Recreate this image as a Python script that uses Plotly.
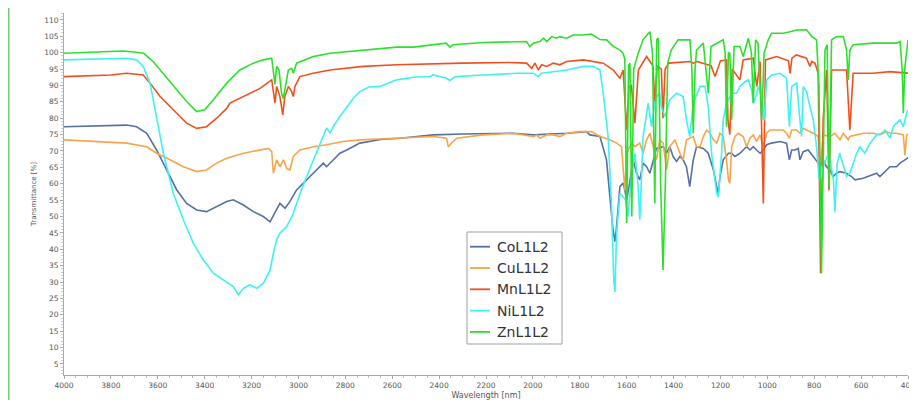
import plotly.graph_objects as go

# ---------------- data (wavenumber axis labelled "Wavelength [nm]") ----------------
series_names = ["CoL1L2", "CuL1L2", "MnL1L2", "NiL1L2", "ZnL1L2"]

wn_co = [4000, 3875, 3733, 3690, 3647, 3605, 3562, 3519, 3477, 3434, 3392, 3349, 3306, 3278, 3235, 3192,
         3150, 3121, 3100, 3079, 3057, 3036, 3008, 2979, 2936, 2894, 2880, 2851, 2823, 2794, 2766, 2738,
         2650, 2567, 2425, 2300, 2084, 1998, 1856, 1771, 1757, 1714, 1686, 1672, 1660, 1650, 1643, 1629,
         1615, 1608, 1600, 1590, 1572, 1558, 1544, 1530, 1515, 1501, 1487, 1473, 1444, 1430, 1416, 1402,
         1387, 1373, 1359, 1345, 1331, 1316, 1302, 1273, 1252, 1230, 1216, 1209, 1202, 1188, 1166, 1152,
         1138, 1117, 1103, 1088, 1074, 1060, 1046, 1031, 1017, 1003, 982, 946, 918, 906, 896, 882, 868,
         861, 847, 826, 804, 783, 776, 762, 748, 733, 719, 705, 690, 662, 641, 626, 591, 548, 534, 520,
         491, 477, 449, 434, 413, 392]
t_co = [77.4, 77.6, 77.9, 77.4, 75.4, 70.3, 64.2, 58.1, 54.0, 52.0, 51.5, 53.0, 54.6, 55.1, 53.5, 51.5,
        50.0, 48.4, 51.0, 54.0, 52.5, 54.6, 58.1, 60.2, 63.2, 66.3, 65.2, 67.3, 69.3, 70.3, 71.3, 72.4,
        73.5, 73.9, 74.9, 75.2, 75.4, 74.9, 75.4, 75.9, 74.9, 74.4, 67.3, 56.0, 47.0, 42.3, 47.0, 59.1,
        60.2, 58.1, 55.0, 59.1, 67.3, 63.2, 61.2, 66.3, 65.2, 63.2, 67.3, 70.8, 71.3, 69.3, 71.3, 68.3,
        66.8, 68.3, 67.3, 65.2, 59.1, 67.3, 71.3, 70.8, 69.3, 64.2, 59.1, 57.1, 62.2, 67.3, 69.3, 69.3,
        68.3, 69.3, 70.3, 71.3, 70.3, 71.3, 70.3, 69.3, 70.3, 71.9, 72.4, 72.9, 72.4, 67.3, 70.3, 70.3, 70.8,
        67.3, 69.8, 70.3, 68.3, 66.3, 65.2, 67.3, 65.2, 64.2, 62.2, 63.2, 63.7, 63.2, 62.2, 61.2, 61.7, 62.7, 63.2, 62.2,
        64.2, 65.2, 65.2, 66.3, 67.3, 68.3]

wn_cu = [4000, 3875, 3733, 3647, 3605, 3548, 3491, 3434, 3392, 3349, 3306, 3235, 3164, 3128, 3114, 3107,
         3093, 3079, 3064, 3050, 3036, 3022, 2993, 2936, 2880, 2809, 2738, 2567, 2425, 2368, 2361, 2347,
         2325, 2212, 2084, 1998, 1984, 1970, 1941, 1913, 1885, 1856, 1800, 1750, 1714, 1672, 1643, 1622,
         1608, 1600, 1579, 1565, 1544, 1530, 1515, 1501, 1487, 1473, 1459, 1444, 1430, 1416, 1394, 1373,
         1359, 1345, 1316, 1302, 1287, 1273, 1259, 1245, 1230, 1216, 1202, 1188, 1174, 1166, 1160, 1152,
         1138, 1124, 1103, 1088, 1074, 1060, 1046, 1031, 1017, 1003, 989, 932, 918, 906, 896, 875, 861,
         847, 833, 804, 783, 773, 762, 733, 712, 690, 676, 655, 648, 620, 591, 548, 520, 491, 477, 449,
         420, 413, 406, 392]
t_cu = [73.4, 72.9, 72.4, 71.3, 69.3, 67.3, 65.2, 63.7, 64.2, 66.3, 67.8, 69.3, 70.3, 70.8, 69.8, 63.2,
        67.3, 65.2, 67.3, 64.7, 64.2, 68.3, 70.3, 71.3, 71.9, 72.9, 73.4, 73.9, 74.4, 73.9, 71.3, 72.4,
        73.9, 74.9, 75.4, 74.4, 74.9, 73.9, 74.9, 74.9, 74.4, 75.4, 75.9, 75.9, 74.4, 73.4, 72.4, 71.3,
        58.0, 69.3, 72.4, 71.3, 72.4, 69.3, 73.4, 75.4, 71.3, 67.3, 73.4, 72.4, 64.2, 71.3, 73.4, 69.3,
        67.3, 73.4, 74.4, 71.3, 71.3, 74.4, 76.4, 75.4, 73.4, 72.4, 75.4, 74.4, 67.3, 61.2, 60.2, 71.3,
        74.4, 75.4, 74.4, 71.3, 73.9, 74.9, 72.9, 74.9, 71.3, 75.4, 76.4, 76.4, 75.4, 73.9, 76.4, 76.4, 75.4,
        76.9, 76.4, 75.4, 74.4, 65.0, 74.9, 74.4, 75.4, 73.4, 75.4, 73.4, 74.4, 74.9, 75.4, 75.4, 74.9, 75.9, 75.4, 75.4,
        74.9, 68.7, 74.9, 75.4]

wn_mn = [4000, 3900, 3800, 3733, 3662, 3633, 3590, 3519, 3477, 3434, 3392, 3349, 3306, 3292, 3235, 3164,
         3114, 3100, 3093, 3079, 3067, 3058, 3043, 3029, 3022, 3015, 2994, 2937, 2865, 2723, 2581, 2439,
         2300, 2100, 2027, 2005, 1991, 1977, 1963, 1941, 1913, 1885, 1856, 1785, 1742, 1700, 1657, 1629,
         1615, 1600, 1590, 1580, 1565, 1550, 1515, 1501, 1488, 1480, 1470, 1452, 1445, 1436, 1420, 1330,
         1316, 1300, 1240, 1223, 1200, 1174, 1168, 1160, 1150, 1117, 1103, 1060, 1045, 1031, 1017, 1008,
         960, 910, 903, 895, 876, 833, 818, 811, 797, 783, 773, 762, 747, 737, 726, 662, 648, 634, 548, 477, 392]
t_mn = [92.7, 93.0, 93.2, 93.7, 93.2, 90.7, 86.6, 81.5, 78.5, 76.9, 77.4, 80.0, 83.0, 84.6, 86.6, 89.1,
        91.7, 84.6, 89.7, 86.6, 81.0, 86.6, 89.7, 88.1, 86.6, 89.7, 92.7, 93.7, 94.7, 95.8, 96.3, 96.6,
        96.8, 97.0, 96.8, 95.2, 96.8, 94.7, 96.3, 95.8, 96.8, 96.3, 97.3, 97.8, 97.3, 96.8, 94.7, 92.2,
        94.7, 76.4, 89.7, 90.0, 78.5, 94.7, 98.8, 97.5, 96.0, 85.0, 96.0, 95.0, 80.0, 95.0, 96.8, 97.3,
        96.8, 97.3, 96.0, 92.7, 97.5, 97.8, 79.5, 75.0, 95.0, 91.7, 97.8, 98.3, 89.7, 97.3, 54.0, 97.8,
        98.8, 97.5, 93.7, 98.3, 99.3, 98.3, 95.8, 97.3, 96.8, 93.7, 32.7, 79.5, 94.7, 58.0, 94.7, 94.7, 76.4, 93.7, 93.7, 94.2, 93.7]

wn_ni = [4000, 3875, 3733, 3690, 3662, 3633, 3605, 3576, 3534, 3491, 3448, 3406, 3363, 3320, 3278, 3256,
         3235, 3207, 3178, 3150, 3121, 3107, 3093, 3079, 3050, 3022, 2993, 2965, 2936, 2908, 2894, 2880,
         2865, 2851, 2823, 2794, 2766, 2738, 2700, 2652, 2581, 2510, 2439, 2425, 2368, 2354, 2330, 2212,
         2069, 1998, 1977, 1963, 1856, 1785, 1742, 1714, 1700, 1679, 1665, 1655, 1650, 1643, 1629, 1615,
         1605, 1594, 1579, 1565, 1552, 1544, 1530, 1508, 1494, 1480, 1473, 1459, 1452, 1437, 1416, 1387,
         1359, 1345, 1331, 1316, 1287, 1266, 1252, 1238, 1216, 1209, 1195, 1188, 1174, 1152, 1131, 1117,
         1103, 1081, 1067, 1060, 1049, 1039, 1024, 1014, 1003, 982, 946, 918, 906, 896, 875, 861, 854,
         847, 833, 818, 804, 790, 779, 769, 762, 750, 740, 733, 718, 712, 702, 691, 676, 662, 648, 634,
         619, 605, 584, 562, 534, 513, 498, 477, 463, 449, 434, 420, 406, 392]
t_ni = [97.8, 98.0, 98.3, 97.8, 95.8, 90.7, 80.5, 69.3, 57.1, 49.0, 41.8, 36.8, 32.7, 30.7, 28.6, 26.1,
        28.1, 29.1, 28.1, 29.6, 33.7, 38.8, 42.9, 44.9, 46.9, 51.0, 57.1, 62.2, 67.3, 72.4, 74.9, 77.0,
        75.5, 77.5, 80.5, 83.5, 86.1, 88.1, 89.5, 89.7, 91.7, 92.5, 92.7, 93.2, 92.2, 91.5, 92.7, 93.2,
        93.7, 93.7, 92.7, 93.7, 94.7, 95.8, 95.8, 94.7, 87.6, 74.4, 54.0, 30.7, 27.0, 45.0, 57.0, 56.0,
        55.0, 50.0, 63.2, 69.3, 60.0, 49.0, 74.4, 84.6, 77.4, 84.6, 86.6, 87.6, 83.5, 80.5, 85.6, 87.6,
        86.6, 79.5, 74.4, 84.6, 89.7, 89.7, 83.5, 69.3, 57.1, 56.0, 69.3, 79.5, 84.6, 87.6, 87.6, 89.7,
        90.7, 91.7, 88.6, 84.6, 86.6, 89.7, 86.6, 79.5, 91.7, 93.2, 93.7, 92.2, 77.4, 89.7, 90.7, 79.5, 74.4,
        89.7, 88.1, 83.5, 79.5, 71.3, 61.2, 62.2, 65.2, 67.3, 69.3, 67.3, 61.2, 51.5, 66.2, 69.3, 65.2, 62.2, 63.2, 66.2,
        69.3, 71.3, 69.3, 72.4, 74.9, 75.4, 76.4, 73.9, 77.4, 78.5, 79.5, 77.4, 81.5, 83.5]

wn_zn = [4000, 3900, 3850, 3800, 3750, 3700, 3660, 3620, 3590, 3520, 3477, 3434, 3400, 3363, 3306, 3250,
         3192, 3150, 3114, 3100, 3093, 3083, 3072, 3065, 3057, 3043, 3029, 3022, 3008, 2937, 2865, 2794,
         2723, 2652, 2581, 2510, 2439, 2370, 2354, 2340, 2212, 2100, 2027, 2013, 1998, 1970, 1955, 1941,
         1920, 1899, 1885, 1856, 1828, 1785, 1750, 1714, 1686, 1657, 1629, 1615, 1608, 1600, 1592, 1586,
         1578, 1570, 1550, 1530, 1501, 1490, 1480, 1472, 1465, 1455, 1445, 1435, 1425, 1410, 1380, 1350,
         1330, 1322, 1316, 1308, 1302, 1273, 1252, 1240, 1216, 1188, 1180, 1174, 1166, 1160, 1152, 1142,
         1117, 1103, 1081, 1068, 1060, 1050, 1040, 1024, 1014, 996, 982, 932, 903, 875, 833, 818, 810,
         790, 780, 769, 763, 754, 745, 736, 726, 705, 676, 662, 655, 648, 634, 548, 449, 434, 425, 420,
         414, 406, 400]
t_zn = [99.8, 100.0, 100.3, 100.3, 100.5, 100.2, 99.8, 97.3, 94.7, 88.6, 85.1, 82.0, 82.6, 85.6, 90.7, 94.7,
        96.8, 97.8, 98.3, 90.3, 95.8, 94.7, 87.6, 86.0, 89.7, 94.7, 95.2, 93.7, 96.8, 98.8, 99.8, 100.3,
        100.8, 101.4, 101.7, 101.7, 102.4, 102.9, 101.7, 102.4, 103.1, 103.3, 103.4, 101.9, 102.9, 103.4, 104.4, 103.4,
        104.9, 104.4, 104.9, 104.4, 105.4, 105.4, 105.7, 104.0, 103.9, 101.9, 100.8, 99.8, 98.0, 48.0, 96.0, 96.8,
        50.0, 95.0, 100.0, 104.0, 106.4, 100.0, 54.0, 104.0, 104.4, 60.0, 33.7, 60.0, 96.8, 100.8, 103.9, 103.9,
        103.9, 95.0, 75.4, 95.0, 100.8, 102.9, 87.6, 101.9, 102.9, 103.9, 100.0, 77.4, 100.0, 99.8, 79.5, 101.9,
        101.9, 98.8, 104.4, 100.0, 84.6, 103.9, 102.9, 79.5, 99.8, 103.9, 105.9, 105.9, 106.4, 106.9, 107.0, 105.4, 104.9,
        103.9, 90.0, 32.7, 59.0, 100.8, 102.4, 59.0, 103.9, 104.9, 104.9, 100.8, 91.7, 100.8, 102.4, 102.9, 102.9, 103.4, 95.0, 81.5,
        95.0, 99.8, 103.9]

colors = ["#5670A6", "#F7A54A", "#F0501E", "#3EF2F2", "#2EE02E"]

x_ticks = list(range(4000, 399, -200))
y_ticks = list(range(5, 111, 5))

# figure geometry (page body has an 8 px margin)
W, H = 909, 392
ML, MR, MT, MB = 56, 9, 5, 25
PW, PH = W - ML - MR, H - MT - MB


def px_x(fx):
    return (fx - ML) / PW


def px_y(fy):
    return 1 - (fy - MT) / PH


fig = go.Figure()
for name, xs, ys, c in zip(series_names,
                           [wn_co, wn_cu, wn_mn, wn_ni, wn_zn],
                           [t_co, t_cu, t_mn, t_ni, t_zn], colors):
    fig.add_trace(go.Scatter(x=xs, y=ys, mode="lines", name=name,
                             line=dict(color=c, width=1.6), showlegend=False))

fig.update_layout(
    width=W, height=H,
    margin=dict(l=ML, r=MR, t=MT, b=MB, autoexpand=False),
    paper_bgcolor="white", plot_bgcolor="white",
    font=dict(family="DejaVu Sans", color="#555555"),
    showlegend=False,
)
fig.update_xaxes(range=[4000, 400], tickvals=x_ticks, ticks="outside", ticklen=3,
                 tickcolor="#aaaaaa", showline=True, linecolor="#aaaaaa", linewidth=1,
                 showgrid=False, zeroline=False, tickfont=dict(size=7.5, color="#555555"),
                 ticklabeloverflow="allow", automargin=False,
                 minor=dict(dtick=50, ticks="outside", ticklen=2, tickcolor="#bbbbbb"),
                 title=dict(text="Wavelength [nm]", font=dict(size=8, color="#555555"), standoff=4))
fig.update_yaxes(range=[1.64, 112.1], tickvals=y_ticks, ticks="outside", ticklen=3,
                 tickcolor="#aaaaaa", showline=True, linecolor="#aaaaaa", linewidth=1,
                 showgrid=False, zeroline=False, tickfont=dict(size=7.5, color="#555555"),
                 automargin=False,
                 minor=dict(dtick=1, ticks="outside", ticklen=2, tickcolor="#cccccc"),
                 title=dict(text="Transmittance [%]", font=dict(size=7, color="#555555"), standoff=6))

# page border line at the far left
fig.add_shape(type="line", xref="paper", yref="paper", x0=px_x(0.5), x1=px_x(0.5), y0=-0.1, y1=1.05,
              line=dict(color="#7cc87c", width=2))

# legend box (drawn as shapes + text)
fig.add_shape(type="rect", xref="paper", yref="paper",
              x0=px_x(459), x1=px_x(554), y0=px_y(336), y1=px_y(224),
              line=dict(color="#a0a0a0", width=1), fillcolor="white", layer="above")
for i, (name, c) in enumerate(zip(series_names, colors)):
    fy = 238.7 + 21.3 * i
    fig.add_shape(type="line", xref="paper", yref="paper",
                  x0=px_x(462), x1=px_x(482), y0=px_y(fy), y1=px_y(fy),
                  line=dict(color=c, width=1.8), layer="above")
    fig.add_annotation(xref="paper", yref="paper", x=px_x(487), y=px_y(fy),
                       xanchor="left", yanchor="middle", text=name, showarrow=False,
                       font=dict(size=14, color="#333333", family="DejaVu Sans"))

fig.write_html("out.html")
